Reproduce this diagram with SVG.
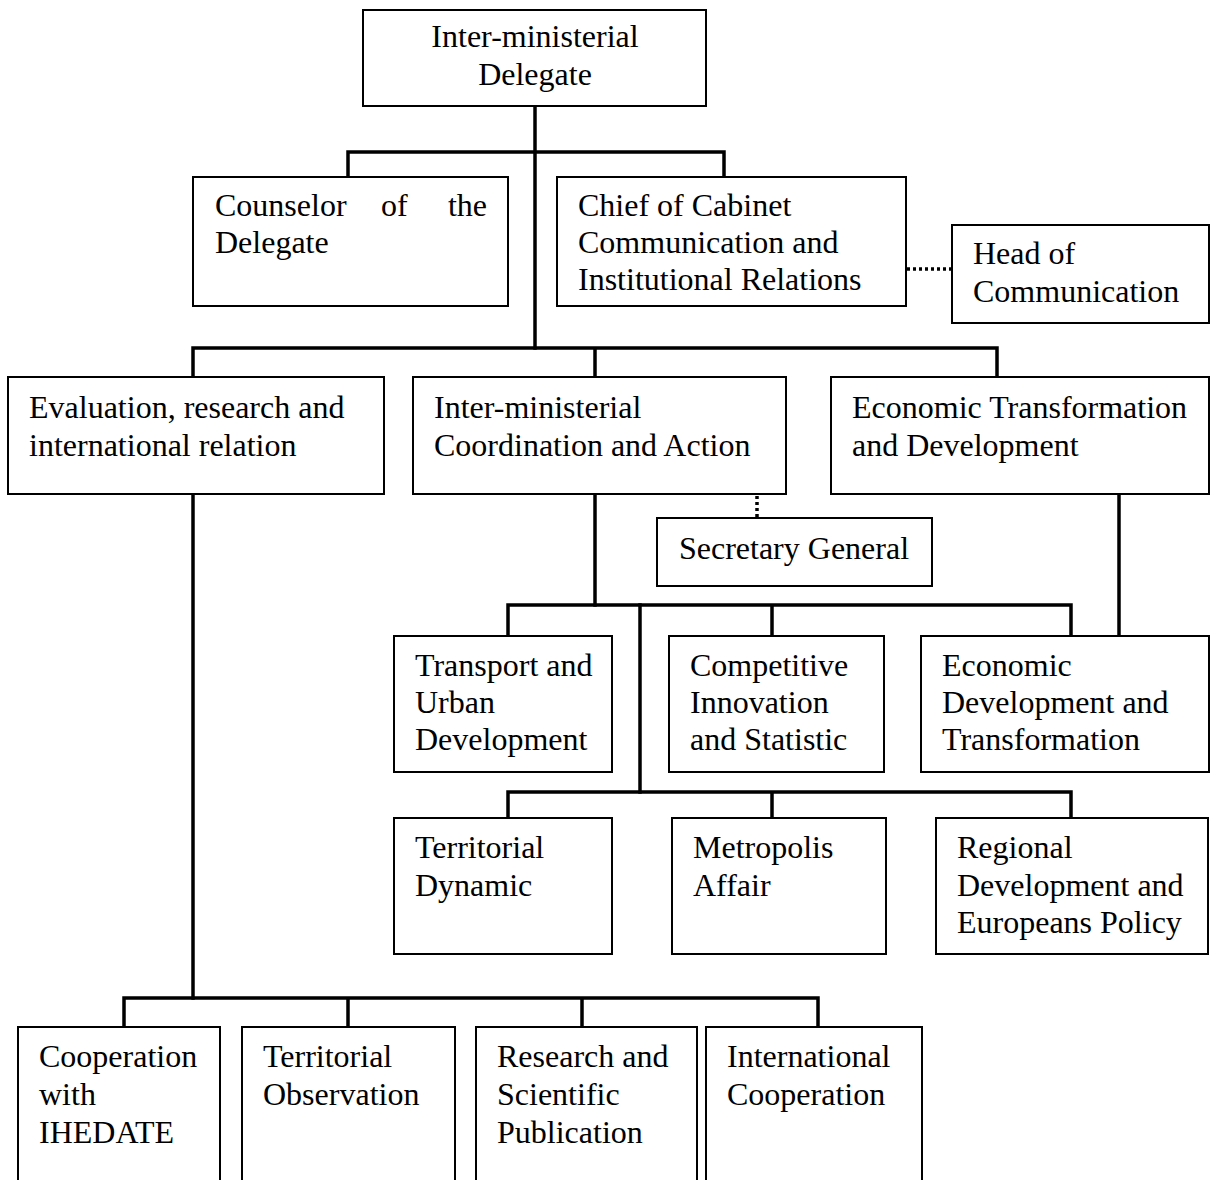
<svg xmlns="http://www.w3.org/2000/svg" width="1211" height="1180" viewBox="0 0 1211 1180">
  <style>
    .box { fill: #ffffff; stroke: #000000; stroke-width: 2; }
    .lbl { font-family: "Liberation Serif", "Times New Roman", serif; font-size: 32px; fill: #000000; }
    .mid { text-anchor: middle; }
    .link { fill: none; stroke: #000000; stroke-width: 3.5; stroke-linecap: square; }
    .dot { fill: none; stroke: #000000; stroke-width: 3.5; stroke-dasharray: 3 3; }
  </style>
  <rect width="1211" height="1180" fill="#ffffff"/>

  <!-- reporting lines -->
  <g id="connectors">
    <path class="link" d="M535 106 V348"/>
    <path class="link" d="M348 177 V152 H724 V177"/>
    <path class="link" d="M193 377 V348 H997 V377 M595 348 V377"/>
    <path class="link" d="M595 494 V605"/>
    <path class="link" d="M508 636 V605 H1071 V636 M772 605 V636"/>
    <path class="link" d="M640 605 V792"/>
    <path class="link" d="M508 818 V792 H1071 V818 M772 792 V818"/>
    <path class="link" d="M1119 494 V636"/>
    <path class="link" d="M193 494 V998"/>
    <path class="link" d="M124 1027 V998 H818 V1027 M348 998 V1027 M582 998 V1027"/>
    <path class="dot" d="M907 269 H951"/>
    <path class="dot" d="M757 496 V518"/>
  </g>

  <g id="delegate">
    <rect class="box" x="363" y="10" width="343" height="96"/>
    <text class="lbl mid" x="535" y="47">Inter-ministerial</text>
    <text class="lbl mid" x="535" y="85">Delegate</text>
  </g>

  <g id="counselor">
    <rect class="box" x="193" y="177" width="315" height="129"/>
    <text class="lbl" x="215" y="216">Counselor</text>
    <text class="lbl" x="381" y="216">of</text>
    <text class="lbl" x="487" y="216" text-anchor="end">the</text>
    <text class="lbl" x="215" y="253">Delegate</text>
  </g>

  <g id="chief-cabinet">
    <rect class="box" x="557" y="177" width="349" height="129"/>
    <text class="lbl" x="578" y="216">Chief of Cabinet</text>
    <text class="lbl" x="578" y="253">Communication and</text>
    <text class="lbl" x="578" y="290">Institutional Relations</text>
  </g>

  <g id="head-communication">
    <rect class="box" x="952" y="225" width="257" height="98"/>
    <text class="lbl" x="973" y="264">Head of</text>
    <text class="lbl" x="973" y="302">Communication</text>
  </g>

  <g id="evaluation">
    <rect class="box" x="8" y="377" width="376" height="117"/>
    <text class="lbl" x="29" y="418">Evaluation, research and</text>
    <text class="lbl" x="29" y="456">international relation</text>
  </g>

  <g id="coordination">
    <rect class="box" x="413" y="377" width="373" height="117"/>
    <text class="lbl" x="434" y="418">Inter-ministerial</text>
    <text class="lbl" x="434" y="456">Coordination and Action</text>
  </g>

  <g id="economic-transformation">
    <rect class="box" x="831" y="377" width="378" height="117"/>
    <text class="lbl" x="852" y="418">Economic Transformation</text>
    <text class="lbl" x="852" y="456">and Development</text>
  </g>

  <g id="secretary-general">
    <rect class="box" x="657" y="518" width="275" height="68"/>
    <text class="lbl mid" x="794" y="559">Secretary General</text>
  </g>

  <g id="transport">
    <rect class="box" x="394" y="636" width="218" height="136"/>
    <text class="lbl" x="415" y="676">Transport and</text>
    <text class="lbl" x="415" y="713">Urban</text>
    <text class="lbl" x="415" y="750">Development</text>
  </g>

  <g id="competitive">
    <rect class="box" x="669" y="636" width="215" height="136"/>
    <text class="lbl" x="690" y="676">Competitive</text>
    <text class="lbl" x="690" y="713">Innovation</text>
    <text class="lbl" x="690" y="750">and Statistic</text>
  </g>

  <g id="economic-development">
    <rect class="box" x="921" y="636" width="288" height="136"/>
    <text class="lbl" x="942" y="676">Economic</text>
    <text class="lbl" x="942" y="713">Development and</text>
    <text class="lbl" x="942" y="750">Transformation</text>
  </g>

  <g id="territorial-dynamic">
    <rect class="box" x="394" y="818" width="218" height="136"/>
    <text class="lbl" x="415" y="858">Territorial</text>
    <text class="lbl" x="415" y="896">Dynamic</text>
  </g>

  <g id="metropolis">
    <rect class="box" x="672" y="818" width="214" height="136"/>
    <text class="lbl" x="693" y="858">Metropolis</text>
    <text class="lbl" x="693" y="896">Affair</text>
  </g>

  <g id="regional">
    <rect class="box" x="936" y="818" width="272" height="136"/>
    <text class="lbl" x="957" y="858">Regional</text>
    <text class="lbl" x="957" y="896">Development and</text>
    <text class="lbl" x="957" y="933">Europeans Policy</text>
  </g>

  <g id="ihedate">
    <rect class="box" x="18" y="1027" width="202" height="160"/>
    <text class="lbl" x="39" y="1067">Cooperation</text>
    <text class="lbl" x="39" y="1105">with</text>
    <text class="lbl" x="39" y="1143">IHEDATE</text>
  </g>

  <g id="observation">
    <rect class="box" x="242" y="1027" width="213" height="160"/>
    <text class="lbl" x="263" y="1067">Territorial</text>
    <text class="lbl" x="263" y="1105">Observation</text>
  </g>

  <g id="research">
    <rect class="box" x="476" y="1027" width="221" height="160"/>
    <text class="lbl" x="497" y="1067">Research and</text>
    <text class="lbl" x="497" y="1105">Scientific</text>
    <text class="lbl" x="497" y="1143">Publication</text>
  </g>

  <g id="international">
    <rect class="box" x="706" y="1027" width="216" height="160"/>
    <text class="lbl" x="727" y="1067">International</text>
    <text class="lbl" x="727" y="1105">Cooperation</text>
  </g>
</svg>
